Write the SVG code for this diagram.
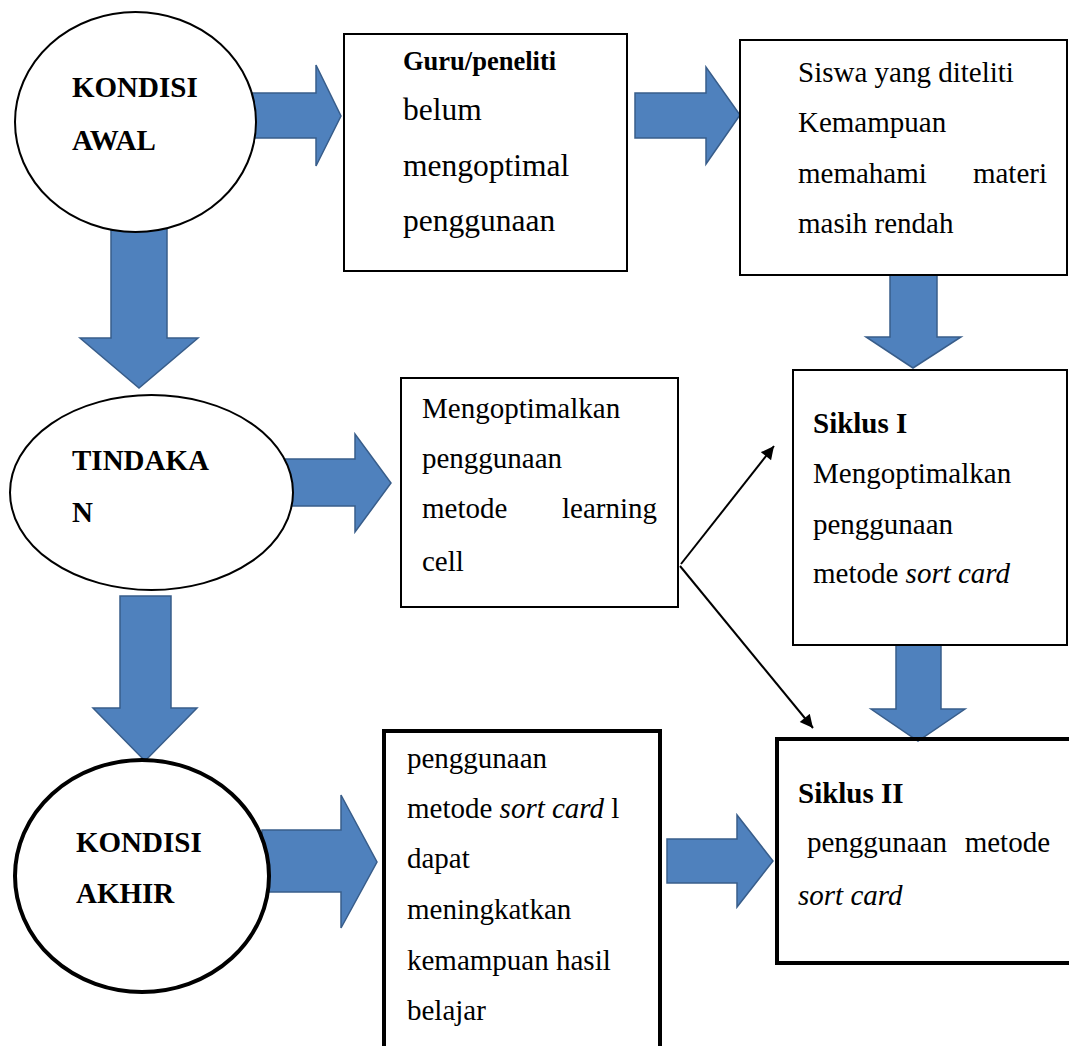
<svg xmlns="http://www.w3.org/2000/svg" width="1069" height="1046" viewBox="0 0 1069 1046">
  <defs>
    <style>
      .blk { fill: #4F81BD; stroke: #385D8A; stroke-width: 1.5; stroke-linejoin: miter; }
      .thin { stroke: #000; stroke-width: 2; fill: none; }
      .box { fill: none; stroke: #000; stroke-width: 2; }
      .boxb { fill: none; stroke: #000; stroke-width: 4; }
      .ell { fill: #fff; stroke: #000; stroke-width: 2; }
      .ellb { fill: #fff; stroke: #000; stroke-width: 4; }
      text { font-family: 'Liberation Serif', 'DejaVu Serif', serif; font-size: 29px; fill: #000; }
      .b { font-weight: bold; }
      .i { font-style: italic; }
      .big { font-size: 31.5px; }
      .sm { font-size: 26.5px; }
    </style>
    <marker id="ah" viewBox="0 0 10 10" refX="10" refY="5" markerUnits="userSpaceOnUse" markerWidth="15" markerHeight="13" orient="auto">
      <path d="M0,0 L10,5 L0,10 z" fill="#000"/>
    </marker>
  </defs>
  <rect width="1069" height="1046" fill="#fff"/>

  <g id="connectors">
    <polygon class="blk" points="245,93 316,93 316,65 341,116 316,166 316,138 245,138"/>
    <polygon class="blk" points="635,93 706,93 706,67 740,115 706,164 706,138 635,138"/>
    <polygon class="blk" points="111,225 167,225 167,338 198,338 139,388 80,338 111,338"/>
    <polygon class="blk" points="890,275 937,275 937,337 961,337 913,368 866,337 890,337"/>
    <polygon class="blk" points="278,459 355,459 355,434 391,483 355,532 355,506 278,506"/>
    <polygon class="blk" points="120,596 171,596 171,708 197,708 145,761 93,708 120,708"/>
    <polygon class="blk" points="896,645 941,645 941,709 965,709 918,741 871,709 896,709"/>
    <polygon class="blk" points="262,830 341,830 341,795 377,862 341,928 341,892 262,892"/>
    <polygon class="blk" points="667,839 737,839 737,815 773,861 737,907 737,883 667,883"/>
    <line class="thin" x1="681" y1="564" x2="774" y2="446" marker-end="url(#ah)"/>
    <line class="thin" x1="680" y1="566" x2="813" y2="728" marker-end="url(#ah)"/>
  </g>

  <g id="kondisi-awal">
    <ellipse class="ell" cx="135.5" cy="122" rx="120.5" ry="110"/>
    <text class="b" x="72" y="97">KONDISI</text>
    <text class="b" x="72" y="150">AWAL</text>
  </g>

  <g id="guru-peneliti">
    <rect class="box" x="344" y="34" width="283" height="237"/>
    <text class="b sm" x="403" y="70">Guru/peneliti</text>
    <text class="big" x="403" y="120">belum</text>
    <text class="big" x="403" y="176">mengoptimal</text>
    <text class="big" x="403" y="231">penggunaan</text>
  </g>

  <g id="siswa">
    <rect class="box" x="740" y="40" width="327" height="235"/>
    <text x="798" y="82">Siswa yang diteliti</text>
    <text x="798" y="132">Kemampuan</text>
    <text x="798" y="183">memahami</text>
    <text x="1047" y="183" text-anchor="end">materi</text>
    <text x="798" y="233">masih rendah</text>
  </g>

  <g id="tindakan">
    <ellipse class="ell" cx="151.5" cy="492.5" rx="141.5" ry="97.5"/>
    <text class="b" x="72" y="470">TINDAKA</text>
    <text class="b" x="72" y="522">N</text>
  </g>

  <g id="learning-cell">
    <rect class="box" x="401" y="378" width="277" height="229"/>
    <text x="422" y="418">Mengoptimalkan</text>
    <text x="422" y="468">penggunaan</text>
    <text x="422" y="518">metode</text>
    <text x="657" y="518" text-anchor="end">learning</text>
    <text x="422" y="571">cell</text>
  </g>

  <g id="siklus-1">
    <rect class="box" x="793" y="370" width="274" height="275"/>
    <text class="b" x="813" y="433">Siklus I</text>
    <text x="813" y="483">Mengoptimalkan</text>
    <text x="813" y="534">penggunaan</text>
    <text x="813" y="583">metode <tspan class="i">sort card</tspan></text>
  </g>

  <g id="kondisi-akhir">
    <ellipse class="ellb" cx="142" cy="876" rx="127" ry="116"/>
    <text class="b" x="76" y="852">KONDISI</text>
    <text class="b" x="76" y="903">AKHIR</text>
  </g>

  <g id="hasil">
    <rect class="boxb" x="384" y="731" width="276" height="330"/>
    <text x="407" y="768">penggunaan</text>
    <text x="407" y="818">metode <tspan class="i">sort card</tspan> l</text>
    <text x="407" y="868">dapat</text>
    <text x="407" y="919">meningkatkan</text>
    <text x="407" y="970">kemampuan hasil</text>
    <text x="407" y="1020">belajar</text>
  </g>

  <g id="siklus-2">
    <rect class="boxb" x="777" y="739" width="300" height="224"/>
    <text class="b" x="798" y="803">Siklus II</text>
    <text x="807" y="852">penggunaan</text>
    <text x="1050" y="852" text-anchor="end">metode</text>
    <text class="i" x="798" y="905">sort card</text>
  </g>
</svg>
